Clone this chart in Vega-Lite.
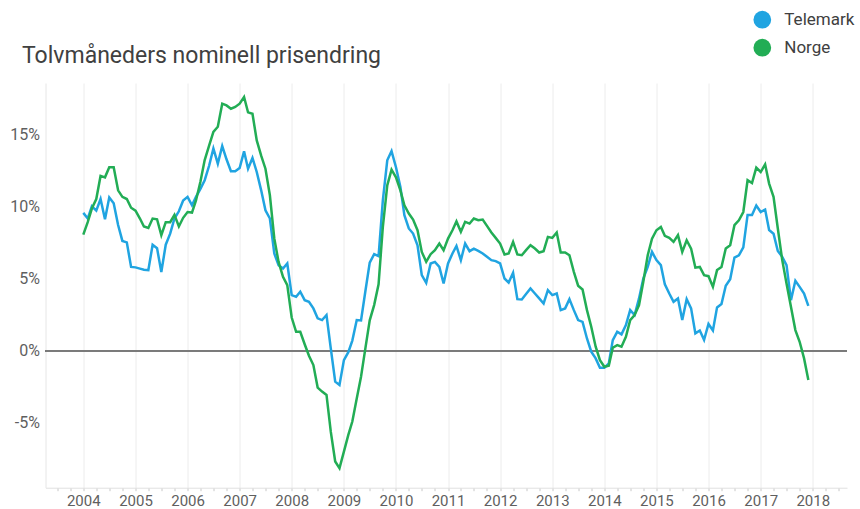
{
"$schema": "https://vega.github.io/schema/vega-lite/v6.json",
"width": 801.5,
"height": 404.7,
"autosize": {"type": "none"},
"padding": {"left": 45.5, "top": 83, "right": 13, "bottom": 21.3},
"background": "white",
"config": {"view": {"stroke": null}, "font": "Roboto"},
"title": {"text": "Tolvmåneders nominell prisendring", "anchor": "start", "frame": "group", "dx": -23.5, "dy": 95.6, "baseline": "alphabetic", "offset": 20, "fontSize": 23, "fontWeight": "normal", "color": "#404040", "font": "Roboto"},
"data": {"values": [
{"d":"2004-01-01","s":"Telemark","v":9.54},{"d":"2004-02-01","s":"Telemark","v":9.15},{"d":"2004-03-01","s":"Telemark","v":10.0},{"d":"2004-04-01","s":"Telemark","v":9.7},{"d":"2004-05-01","s":"Telemark","v":10.5},{"d":"2004-06-01","s":"Telemark","v":9.1},{"d":"2004-07-01","s":"Telemark","v":10.6},{"d":"2004-08-01","s":"Telemark","v":10.2},{"d":"2004-09-01","s":"Telemark","v":8.7},{"d":"2004-10-01","s":"Telemark","v":7.6},{"d":"2004-11-01","s":"Telemark","v":7.5},{"d":"2004-12-01","s":"Telemark","v":5.8},
{"d":"2005-01-01","s":"Telemark","v":5.77},{"d":"2005-02-01","s":"Telemark","v":5.68},{"d":"2005-03-01","s":"Telemark","v":5.6},{"d":"2005-04-01","s":"Telemark","v":5.57},{"d":"2005-05-01","s":"Telemark","v":7.34},{"d":"2005-06-01","s":"Telemark","v":7.1},{"d":"2005-07-01","s":"Telemark","v":5.45},{"d":"2005-08-01","s":"Telemark","v":7.34},{"d":"2005-09-01","s":"Telemark","v":8.1},{"d":"2005-10-01","s":"Telemark","v":9.15},{"d":"2005-11-01","s":"Telemark","v":9.65},{"d":"2005-12-01","s":"Telemark","v":10.4},
{"d":"2006-01-01","s":"Telemark","v":10.65},{"d":"2006-02-01","s":"Telemark","v":10.07},{"d":"2006-03-01","s":"Telemark","v":10.65},{"d":"2006-04-01","s":"Telemark","v":11.2},{"d":"2006-05-01","s":"Telemark","v":11.8},{"d":"2006-06-01","s":"Telemark","v":12.8},{"d":"2006-07-01","s":"Telemark","v":14.0},{"d":"2006-08-01","s":"Telemark","v":12.95},{"d":"2006-09-01","s":"Telemark","v":14.17},{"d":"2006-10-01","s":"Telemark","v":13.25},{"d":"2006-11-01","s":"Telemark","v":12.42},{"d":"2006-12-01","s":"Telemark","v":12.42},
{"d":"2007-01-01","s":"Telemark","v":12.65},{"d":"2007-02-01","s":"Telemark","v":13.8},{"d":"2007-03-01","s":"Telemark","v":12.6},{"d":"2007-04-01","s":"Telemark","v":13.34},{"d":"2007-05-01","s":"Telemark","v":12.37},{"d":"2007-06-01","s":"Telemark","v":11.1},{"d":"2007-07-01","s":"Telemark","v":9.72},{"d":"2007-08-01","s":"Telemark","v":9.15},{"d":"2007-09-01","s":"Telemark","v":6.73},{"d":"2007-10-01","s":"Telemark","v":5.92},{"d":"2007-11-01","s":"Telemark","v":5.69},{"d":"2007-12-01","s":"Telemark","v":6.04},
{"d":"2008-01-01","s":"Telemark","v":3.85},{"d":"2008-02-01","s":"Telemark","v":3.73},{"d":"2008-03-01","s":"Telemark","v":4.08},{"d":"2008-04-01","s":"Telemark","v":3.5},{"d":"2008-05-01","s":"Telemark","v":3.39},{"d":"2008-06-01","s":"Telemark","v":2.93},{"d":"2008-07-01","s":"Telemark","v":2.24},{"d":"2008-08-01","s":"Telemark","v":2.12},{"d":"2008-09-01","s":"Telemark","v":2.47},{"d":"2008-10-01","s":"Telemark","v":0.16},{"d":"2008-11-01","s":"Telemark","v":-2.14},{"d":"2008-12-01","s":"Telemark","v":-2.37},
{"d":"2009-01-01","s":"Telemark","v":-0.65},{"d":"2009-02-01","s":"Telemark","v":-0.1},{"d":"2009-03-01","s":"Telemark","v":0.7},{"d":"2009-04-01","s":"Telemark","v":2.12},{"d":"2009-05-01","s":"Telemark","v":2.1},{"d":"2009-06-01","s":"Telemark","v":4.15},{"d":"2009-07-01","s":"Telemark","v":6.1},{"d":"2009-08-01","s":"Telemark","v":6.68},{"d":"2009-09-01","s":"Telemark","v":6.54},{"d":"2009-10-01","s":"Telemark","v":10.4},{"d":"2009-11-01","s":"Telemark","v":13.18},{"d":"2009-12-01","s":"Telemark","v":13.82},
{"d":"2010-01-01","s":"Telemark","v":12.7},{"d":"2010-02-01","s":"Telemark","v":11.34},{"d":"2010-03-01","s":"Telemark","v":9.38},{"d":"2010-04-01","s":"Telemark","v":8.46},{"d":"2010-05-01","s":"Telemark","v":8.11},{"d":"2010-06-01","s":"Telemark","v":7.3},{"d":"2010-07-01","s":"Telemark","v":5.23},{"d":"2010-08-01","s":"Telemark","v":4.7},{"d":"2010-09-01","s":"Telemark","v":6.04},{"d":"2010-10-01","s":"Telemark","v":6.15},{"d":"2010-11-01","s":"Telemark","v":5.8},{"d":"2010-12-01","s":"Telemark","v":4.65},
{"d":"2011-01-01","s":"Telemark","v":6.04},{"d":"2011-02-01","s":"Telemark","v":6.73},{"d":"2011-03-01","s":"Telemark","v":7.25},{"d":"2011-04-01","s":"Telemark","v":6.27},{"d":"2011-05-01","s":"Telemark","v":7.42},{"d":"2011-06-01","s":"Telemark","v":6.89},{"d":"2011-07-01","s":"Telemark","v":7.07},{"d":"2011-08-01","s":"Telemark","v":6.91},{"d":"2011-09-01","s":"Telemark","v":6.73},{"d":"2011-10-01","s":"Telemark","v":6.5},{"d":"2011-11-01","s":"Telemark","v":6.27},{"d":"2011-12-01","s":"Telemark","v":6.2},
{"d":"2012-01-01","s":"Telemark","v":6.04},{"d":"2012-02-01","s":"Telemark","v":5.0},{"d":"2012-03-01","s":"Telemark","v":4.72},{"d":"2012-04-01","s":"Telemark","v":5.39},{"d":"2012-05-01","s":"Telemark","v":3.57},{"d":"2012-06-01","s":"Telemark","v":3.55},{"d":"2012-07-01","s":"Telemark","v":3.92},{"d":"2012-08-01","s":"Telemark","v":4.31},{"d":"2012-09-01","s":"Telemark","v":3.96},{"d":"2012-10-01","s":"Telemark","v":3.62},{"d":"2012-11-01","s":"Telemark","v":3.27},{"d":"2012-12-01","s":"Telemark","v":4.19},
{"d":"2013-01-01","s":"Telemark","v":3.85},{"d":"2013-02-01","s":"Telemark","v":3.96},{"d":"2013-03-01","s":"Telemark","v":2.81},{"d":"2013-04-01","s":"Telemark","v":2.93},{"d":"2013-05-01","s":"Telemark","v":3.57},{"d":"2013-06-01","s":"Telemark","v":2.81},{"d":"2013-07-01","s":"Telemark","v":2.12},{"d":"2013-08-01","s":"Telemark","v":2.0},{"d":"2013-09-01","s":"Telemark","v":0.85},{"d":"2013-10-01","s":"Telemark","v":-0.07},{"d":"2013-11-01","s":"Telemark","v":-0.53},{"d":"2013-12-01","s":"Telemark","v":-1.18},
{"d":"2014-01-01","s":"Telemark","v":-1.18},{"d":"2014-02-01","s":"Telemark","v":-0.88},{"d":"2014-03-01","s":"Telemark","v":0.74},{"d":"2014-04-01","s":"Telemark","v":1.31},{"d":"2014-05-01","s":"Telemark","v":1.13},{"d":"2014-06-01","s":"Telemark","v":1.77},{"d":"2014-07-01","s":"Telemark","v":2.81},{"d":"2014-08-01","s":"Telemark","v":2.47},{"d":"2014-09-01","s":"Telemark","v":3.62},{"d":"2014-10-01","s":"Telemark","v":5.0},{"d":"2014-11-01","s":"Telemark","v":5.81},{"d":"2014-12-01","s":"Telemark","v":6.84},
{"d":"2015-01-01","s":"Telemark","v":6.27},{"d":"2015-02-01","s":"Telemark","v":5.92},{"d":"2015-03-01","s":"Telemark","v":4.59},{"d":"2015-04-01","s":"Telemark","v":3.96},{"d":"2015-05-01","s":"Telemark","v":3.39},{"d":"2015-06-01","s":"Telemark","v":3.62},{"d":"2015-07-01","s":"Telemark","v":2.12},{"d":"2015-08-01","s":"Telemark","v":3.57},{"d":"2015-09-01","s":"Telemark","v":2.93},{"d":"2015-10-01","s":"Telemark","v":1.2},{"d":"2015-11-01","s":"Telemark","v":1.4},{"d":"2015-12-01","s":"Telemark","v":0.75},
{"d":"2016-01-01","s":"Telemark","v":1.85},{"d":"2016-02-01","s":"Telemark","v":1.4},{"d":"2016-03-01","s":"Telemark","v":3.0},{"d":"2016-04-01","s":"Telemark","v":3.23},{"d":"2016-05-01","s":"Telemark","v":4.5},{"d":"2016-06-01","s":"Telemark","v":4.95},{"d":"2016-07-01","s":"Telemark","v":6.45},{"d":"2016-08-01","s":"Telemark","v":6.6},{"d":"2016-09-01","s":"Telemark","v":7.15},{"d":"2016-10-01","s":"Telemark","v":9.4},{"d":"2016-11-01","s":"Telemark","v":9.4},{"d":"2016-12-01","s":"Telemark","v":10.05},
{"d":"2017-01-01","s":"Telemark","v":9.6},{"d":"2017-02-01","s":"Telemark","v":9.77},{"d":"2017-03-01","s":"Telemark","v":8.35},{"d":"2017-04-01","s":"Telemark","v":8.1},{"d":"2017-05-01","s":"Telemark","v":6.9},{"d":"2017-06-01","s":"Telemark","v":6.5},{"d":"2017-07-01","s":"Telemark","v":5.92},{"d":"2017-08-01","s":"Telemark","v":3.5},{"d":"2017-09-01","s":"Telemark","v":4.84},{"d":"2017-10-01","s":"Telemark","v":4.42},{"d":"2017-11-01","s":"Telemark","v":3.96},{"d":"2017-12-01","s":"Telemark","v":3.1},
{"d":"2004-01-01","s":"Norge","v":8.04},{"d":"2004-02-01","s":"Norge","v":8.9},{"d":"2004-03-01","s":"Norge","v":9.84},{"d":"2004-04-01","s":"Norge","v":10.5},{"d":"2004-05-01","s":"Norge","v":12.1},{"d":"2004-06-01","s":"Norge","v":12.0},{"d":"2004-07-01","s":"Norge","v":12.7},{"d":"2004-08-01","s":"Norge","v":12.7},{"d":"2004-09-01","s":"Norge","v":11.1},{"d":"2004-10-01","s":"Norge","v":10.65},{"d":"2004-11-01","s":"Norge","v":10.5},{"d":"2004-12-01","s":"Norge","v":9.9},
{"d":"2005-01-01","s":"Norge","v":9.7},{"d":"2005-02-01","s":"Norge","v":9.15},{"d":"2005-03-01","s":"Norge","v":8.6},{"d":"2005-04-01","s":"Norge","v":8.5},{"d":"2005-05-01","s":"Norge","v":9.15},{"d":"2005-06-01","s":"Norge","v":9.1},{"d":"2005-07-01","s":"Norge","v":8.0},{"d":"2005-08-01","s":"Norge","v":8.9},{"d":"2005-09-01","s":"Norge","v":8.9},{"d":"2005-10-01","s":"Norge","v":9.4},{"d":"2005-11-01","s":"Norge","v":8.6},{"d":"2005-12-01","s":"Norge","v":9.2},
{"d":"2006-01-01","s":"Norge","v":9.6},{"d":"2006-02-01","s":"Norge","v":9.56},{"d":"2006-03-01","s":"Norge","v":10.4},{"d":"2006-04-01","s":"Norge","v":11.7},{"d":"2006-05-01","s":"Norge","v":13.2},{"d":"2006-06-01","s":"Norge","v":14.2},{"d":"2006-07-01","s":"Norge","v":15.15},{"d":"2006-08-01","s":"Norge","v":15.5},{"d":"2006-09-01","s":"Norge","v":17.1},{"d":"2006-10-01","s":"Norge","v":16.98},{"d":"2006-11-01","s":"Norge","v":16.75},{"d":"2006-12-01","s":"Norge","v":16.87},
{"d":"2007-01-01","s":"Norge","v":17.1},{"d":"2007-02-01","s":"Norge","v":17.56},{"d":"2007-03-01","s":"Norge","v":16.5},{"d":"2007-04-01","s":"Norge","v":16.4},{"d":"2007-05-01","s":"Norge","v":14.56},{"d":"2007-06-01","s":"Norge","v":13.5},{"d":"2007-07-01","s":"Norge","v":12.6},{"d":"2007-08-01","s":"Norge","v":10.76},{"d":"2007-09-01","s":"Norge","v":7.77},{"d":"2007-10-01","s":"Norge","v":6.15},{"d":"2007-11-01","s":"Norge","v":5.12},{"d":"2007-12-01","s":"Norge","v":4.54},
{"d":"2008-01-01","s":"Norge","v":2.3},{"d":"2008-02-01","s":"Norge","v":1.31},{"d":"2008-03-01","s":"Norge","v":1.31},{"d":"2008-04-01","s":"Norge","v":0.45},{"d":"2008-05-01","s":"Norge","v":-0.35},{"d":"2008-06-01","s":"Norge","v":-0.99},{"d":"2008-07-01","s":"Norge","v":-2.55},{"d":"2008-08-01","s":"Norge","v":-2.83},{"d":"2008-09-01","s":"Norge","v":-3.06},{"d":"2008-10-01","s":"Norge","v":-5.6},{"d":"2008-11-01","s":"Norge","v":-7.67},{"d":"2008-12-01","s":"Norge","v":-8.13},
{"d":"2009-01-01","s":"Norge","v":-6.98},{"d":"2009-02-01","s":"Norge","v":-5.83},{"d":"2009-03-01","s":"Norge","v":-4.9},{"d":"2009-04-01","s":"Norge","v":-3.3},{"d":"2009-05-01","s":"Norge","v":-1.8},{"d":"2009-06-01","s":"Norge","v":0.2},{"d":"2009-07-01","s":"Norge","v":2.1},{"d":"2009-08-01","s":"Norge","v":3.16},{"d":"2009-09-01","s":"Norge","v":4.6},{"d":"2009-10-01","s":"Norge","v":8.57},{"d":"2009-11-01","s":"Norge","v":11.45},{"d":"2009-12-01","s":"Norge","v":12.53},
{"d":"2010-01-01","s":"Norge","v":12.0},{"d":"2010-02-01","s":"Norge","v":11.1},{"d":"2010-03-01","s":"Norge","v":10.07},{"d":"2010-04-01","s":"Norge","v":9.5},{"d":"2010-05-01","s":"Norge","v":9.08},{"d":"2010-06-01","s":"Norge","v":8.34},{"d":"2010-07-01","s":"Norge","v":6.84},{"d":"2010-08-01","s":"Norge","v":6.15},{"d":"2010-09-01","s":"Norge","v":6.68},{"d":"2010-10-01","s":"Norge","v":6.96},{"d":"2010-11-01","s":"Norge","v":7.42},{"d":"2010-12-01","s":"Norge","v":6.96},
{"d":"2011-01-01","s":"Norge","v":7.76},{"d":"2011-02-01","s":"Norge","v":8.34},{"d":"2011-03-01","s":"Norge","v":8.95},{"d":"2011-04-01","s":"Norge","v":8.23},{"d":"2011-05-01","s":"Norge","v":8.92},{"d":"2011-06-01","s":"Norge","v":8.8},{"d":"2011-07-01","s":"Norge","v":9.15},{"d":"2011-08-01","s":"Norge","v":9.03},{"d":"2011-09-01","s":"Norge","v":9.08},{"d":"2011-10-01","s":"Norge","v":8.64},{"d":"2011-11-01","s":"Norge","v":8.18},{"d":"2011-12-01","s":"Norge","v":7.81},
{"d":"2012-01-01","s":"Norge","v":7.42},{"d":"2012-02-01","s":"Norge","v":6.66},{"d":"2012-03-01","s":"Norge","v":6.73},{"d":"2012-04-01","s":"Norge","v":7.53},{"d":"2012-05-01","s":"Norge","v":6.66},{"d":"2012-06-01","s":"Norge","v":6.61},{"d":"2012-07-01","s":"Norge","v":6.96},{"d":"2012-08-01","s":"Norge","v":7.3},{"d":"2012-09-01","s":"Norge","v":7.07},{"d":"2012-10-01","s":"Norge","v":6.8},{"d":"2012-11-01","s":"Norge","v":6.89},{"d":"2012-12-01","s":"Norge","v":7.88},
{"d":"2013-01-01","s":"Norge","v":7.81},{"d":"2013-02-01","s":"Norge","v":8.18},{"d":"2013-03-01","s":"Norge","v":6.8},{"d":"2013-04-01","s":"Norge","v":6.8},{"d":"2013-05-01","s":"Norge","v":6.61},{"d":"2013-06-01","s":"Norge","v":5.46},{"d":"2013-07-01","s":"Norge","v":4.5},{"d":"2013-08-01","s":"Norge","v":4.24},{"d":"2013-09-01","s":"Norge","v":2.81},{"d":"2013-10-01","s":"Norge","v":1.66},{"d":"2013-11-01","s":"Norge","v":0.28},{"d":"2013-12-01","s":"Norge","v":-0.65},
{"d":"2014-01-01","s":"Norge","v":-1.11},{"d":"2014-02-01","s":"Norge","v":-1.04},{"d":"2014-03-01","s":"Norge","v":0.21},{"d":"2014-04-01","s":"Norge","v":0.39},{"d":"2014-05-01","s":"Norge","v":0.28},{"d":"2014-06-01","s":"Norge","v":0.97},{"d":"2014-07-01","s":"Norge","v":2.12},{"d":"2014-08-01","s":"Norge","v":2.47},{"d":"2014-09-01","s":"Norge","v":3.16},{"d":"2014-10-01","s":"Norge","v":4.77},{"d":"2014-11-01","s":"Norge","v":6.61},{"d":"2014-12-01","s":"Norge","v":7.76},
{"d":"2015-01-01","s":"Norge","v":8.34},{"d":"2015-02-01","s":"Norge","v":8.57},{"d":"2015-03-01","s":"Norge","v":7.95},{"d":"2015-04-01","s":"Norge","v":7.81},{"d":"2015-05-01","s":"Norge","v":7.53},{"d":"2015-06-01","s":"Norge","v":8.0},{"d":"2015-07-01","s":"Norge","v":6.84},{"d":"2015-08-01","s":"Norge","v":7.65},{"d":"2015-09-01","s":"Norge","v":7.07},{"d":"2015-10-01","s":"Norge","v":5.75},{"d":"2015-11-01","s":"Norge","v":5.8},{"d":"2015-12-01","s":"Norge","v":5.23},
{"d":"2016-01-01","s":"Norge","v":5.16},{"d":"2016-02-01","s":"Norge","v":4.42},{"d":"2016-03-01","s":"Norge","v":5.58},{"d":"2016-04-01","s":"Norge","v":5.8},{"d":"2016-05-01","s":"Norge","v":7.07},{"d":"2016-06-01","s":"Norge","v":7.3},{"d":"2016-07-01","s":"Norge","v":8.69},{"d":"2016-08-01","s":"Norge","v":9.03},{"d":"2016-09-01","s":"Norge","v":9.6},{"d":"2016-10-01","s":"Norge","v":11.8},{"d":"2016-11-01","s":"Norge","v":11.6},{"d":"2016-12-01","s":"Norge","v":12.67},
{"d":"2017-01-01","s":"Norge","v":12.37},{"d":"2017-02-01","s":"Norge","v":12.9},{"d":"2017-03-01","s":"Norge","v":11.57},{"d":"2017-04-01","s":"Norge","v":10.65},{"d":"2017-05-01","s":"Norge","v":8.46},{"d":"2017-06-01","s":"Norge","v":6.27},{"d":"2017-07-01","s":"Norge","v":4.65},{"d":"2017-08-01","s":"Norge","v":3.04},{"d":"2017-09-01","s":"Norge","v":1.43},{"d":"2017-10-01","s":"Norge","v":0.62},{"d":"2017-11-01","s":"Norge","v":-0.53},{"d":"2017-12-01","s":"Norge","v":-2.03}
]},
"layer": [
{"mark": {"type": "rule", "color": "#7a7a7a", "strokeWidth": 1}, "encoding": {"y": {"datum": 0, "type": "quantitative"}}},
{"mark": {"type": "line", "strokeWidth": 2.5},
 "encoding": {
  "x": {"field": "d", "type": "temporal",
   "scale": {"type": "utc", "domain": [{"year": 2003, "month": 4, "date": 11, "utc": true}, {"year": 2018, "month": 8, "date": 29, "utc": true}]},
   "axis": {"title": null, "tickCount": {"interval": "month", "step": 3},
    "labelExpr": "utcmonth(datum.value) == 0 ? utcFormat(datum.value, '%Y') : ''",
    "gridOpacity": {"condition": {"test": "utcmonth(datum.value) == 0", "value": 1}, "value": 0},
    "gridColor": "#ececec", "domainColor": "#e0e0e0", "tickColor": "#c8c8c8", "tickSize": 3,
    "labelFontSize": 15, "labelColor": "#5f5f5f", "labelPadding": 3, "labelFont": "Roboto",
    "labelFlush": false, "labelOverlap": false}},
  "y": {"field": "v", "type": "quantitative",
   "scale": {"domain": [-9.48, 18.53], "nice": false, "zero": false},
   "axis": {"title": null, "values": [-5, 0, 5, 10, 15], "labelExpr": "datum.value + '%'",
    "domain": true, "domainColor": "#e6e6e6", "ticks": false, "gridColor": "#ececec",
    "labelFontSize": 16, "labelColor": "#5f5f5f", "labelPadding": 6, "labelFont": "Roboto"}},
  "color": {"field": "s", "type": "nominal",
   "scale": {"domain": ["Telemark", "Norge"], "range": ["#20a4e1", "#22ad55"]},
   "legend": {"title": null, "orient": "none", "legendX": 707.8, "legendY": -72.3, "padding": 0,
    "symbolType": "circle", "symbolSize": 314, "symbolStrokeWidth": 0,
    "labelFontSize": 17, "labelColor": "#404040", "labelFont": "Roboto", "labelOffset": 13, "rowPadding": 10,
    "encode": {"symbols": {"update": {"fill": {"scale": "color", "field": "value"}, "opacity": {"value": 1}}}}}}
 }}
]
}
